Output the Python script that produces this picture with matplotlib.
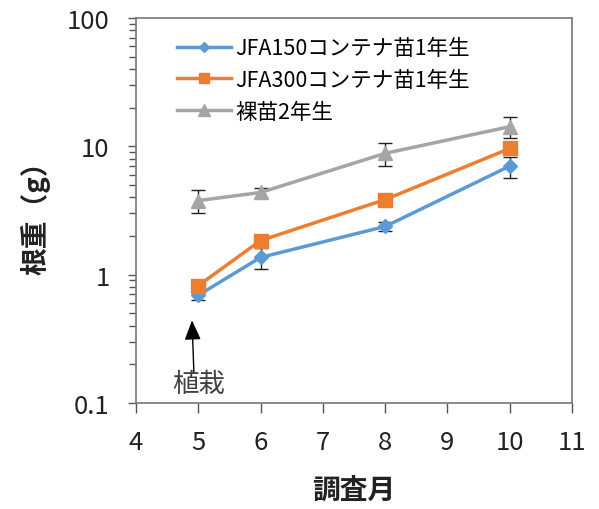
import numpy as np
import matplotlib.pyplot as plt
from matplotlib.lines import Line2D
from matplotlib.ticker import FixedLocator, FixedFormatter, LogLocator, NullFormatter

plt.rcParams['font.family'] = ['Noto Sans CJK JP', 'DejaVu Sans']

# 調査月ごとの根重 (g)
months = [5, 6, 8, 10]
jfa150 = [0.69, 1.36, 2.37, 7.0]
jfa150_err = [0.06, 0.25, 0.2, 1.3]
jfa300 = [0.82, 1.84, 3.84, 9.6]
jfa300_err = [0.05, 0.2, 0.2, 0.9]
hadaka = [3.77, 4.36, 8.8, 14.2]
hadaka_err = [0.75, 0.4, 1.8, 2.6]

labels = ['JFA150コンテナ苗1年生', 'JFA300コンテナ苗1年生', '裸苗2年生']
colors = ['#5B9BD5', '#ED7D31', '#A5A5A5']

fig = plt.figure(figsize=(5.99, 5.10), dpi=100)
ax = fig.add_axes([0.227, 0.208, 0.728, 0.755])

series = [(jfa150, jfa150_err, 'D', 7), (jfa300, jfa300_err, 's', 9.5), (hadaka, hadaka_err, '^', 10)]
handles = []
for (vals, err, mk, ms), lab, c in zip(series, labels, colors):
    ax.errorbar(months, vals, yerr=err, color=c, marker=mk, markersize=ms, lw=2.5,
                ecolor='#222222', elinewidth=1, capsize=5, capthick=1)
    handles.append(Line2D([], [], color=c, marker=mk, markersize=ms * 0.8, lw=2.5, label=lab))

ax.set_yscale('log')
ax.set_ylim(0.1, 100)
ax.set_xlim(4, 11)
ax.set_xticks(range(4, 12))
ax.yaxis.set_major_locator(FixedLocator([0.1, 1, 10, 100]))
ax.yaxis.set_major_formatter(FixedFormatter(['0.1', '1', '10', '100']))
ax.yaxis.set_minor_locator(LogLocator(base=10, subs=np.arange(2, 10)))
ax.yaxis.set_minor_formatter(NullFormatter())

for s in ax.spines.values():
    s.set_color('#777777')
    s.set_linewidth(1.2)
ax.tick_params(axis='both', which='major', labelsize=18.5, color='#555555', width=1, labelcolor='#222222')
ax.tick_params(axis='x', which='major', length=7, pad=12)
ax.tick_params(axis='y', which='major', length=6, pad=13)
ax.tick_params(axis='y', which='minor', length=5, color='#555555', width=1)

ax.set_xlabel('調査月', fontsize=20, fontweight='bold', labelpad=15, color='#222222')
ax.set_ylabel('根重（g）', fontsize=20, fontweight='bold', labelpad=12, color='#222222')

# 植栽時期の矢印
ax.annotate('', xy=(4.9, 0.44), xytext=(4.93, 0.17),
            arrowprops=dict(arrowstyle='-|>,head_width=0.5,head_length=1.2', color='black', lw=1,
                            shrinkA=0, shrinkB=0))
ax.text(5.0, 0.141, '植栽', fontsize=19, ha='center', va='center', color='#404040')

ax.legend(handles=handles, loc='upper left', bbox_to_anchor=(0.05, 1.0), frameon=False,
          fontsize=15.5, handlelength=2.5, labelspacing=0.45, handletextpad=0.2)

fig.savefig('out.png', dpi=100)
